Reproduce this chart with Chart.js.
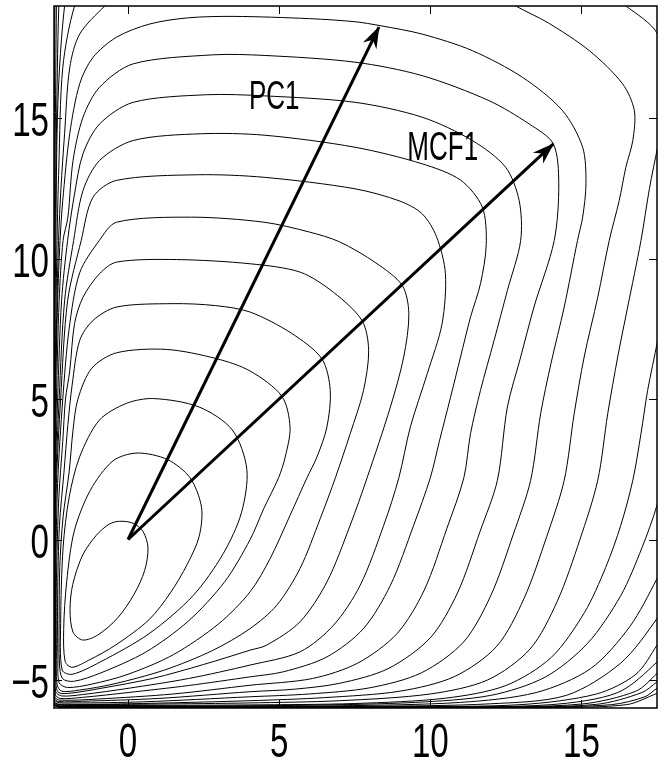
<!DOCTYPE html>
<html>
<head>
<meta charset="utf-8">
<script src="https://cdn.jsdelivr.net/npm/chart.js@4/dist/chart.umd.min.js"></script>
<style>
  html, body { margin: 0; padding: 0; background: #fff; }
</style>
</head>
<body>
<canvas id="chart" width="665" height="763"></canvas>
<script>
// axis ticks
const xTicks = [0, 5, 10, 15];
const yTicks = [-5, 0, 5, 10, 15];

// the two direction arrows, from the origin
const pc1Arrow = [[0, 0], [8.3, 18.25]];
const mcf1Arrow = [[0, 0], [14.07, 14.09]];

// contour lines, innermost first
// (closed ones end on their first point)
const contour01 = [[-0.28,0.65],[0.17,0.58],[0.5,0.28],[0.66,-0.3],[0.55,-1.1],[0.2,-1.95],[-0.35,-2.8],[-1.0,-3.4],[-1.5,-3.58],[-1.82,-3.3],[-1.92,-2.5],[-1.83,-1.6],[-1.5,-0.55],[-1.05,0.15],[-0.62,0.55],[-0.28,0.65]];
const contour02 = [[0.3,3.08],[1.3,2.85],[2.05,2.2],[2.43,1.15],[2.35,0.1],[1.95,-0.9],[1.4,-1.9],[0.7,-2.85],[-0.4,-3.75],[-1.3,-4.3],[-1.85,-4.55],[-2.08,-4.35],[-2.13,-3.2],[-2.03,-1.5],[-1.78,0.3],[-1.25,1.75],[-0.5,2.8],[0.3,3.08]];
const contour03 = [[0.85,5.02],[2.35,4.72],[3.45,3.9],[3.93,2.5],[3.75,0.95],[3.15,-0.5],[2.15,-2.0],[0.7,-3.35],[-0.9,-4.35],[-1.85,-4.8],[-2.18,-4.65],[-2.23,-3.0],[-2.15,-0.3],[-1.95,1.5],[-1.6,2.95],[-0.95,4.25],[-0.05,4.85],[0.85,5.02]];
const contour04 = [[1.27,6.77],[2.93,6.44],[4.04,6.0],[5.09,5.1],[5.36,4.0],[5.2,2.94],[4.98,2.2],[4.49,1.1],[4.04,0.0],[3.2,-1.5],[2.0,-2.9],[0.6,-4.0],[-0.9,-4.75],[-1.8,-5.05],[-2.17,-4.95],[-2.27,-4.4],[-2.28,-3.0],[-2.26,-1.0],[-2.15,0.8],[-1.95,2.4],[-1.82,3.9],[-1.66,5.0],[-1.2,6.1],[-0.38,6.65],[1.27,6.77]];
const contour05 = [[1.49,8.4],[2.9,8.33],[4.04,8.1],[5.4,7.35],[6.41,6.44],[6.69,5.31],[6.58,4.01],[6.25,2.94],[5.92,2.2],[5.36,0.86],[4.7,-0.68],[4.04,-1.86],[3.0,-3.0],[1.5,-4.1],[0.0,-4.8],[-1.2,-5.15],[-2.0,-5.27],[-2.28,-5.1],[-2.32,-4.3],[-2.33,-2.0],[-2.27,0.5],[-2.12,2.4],[-1.99,4.1],[-1.85,5.5],[-1.6,7.09],[-1.16,7.8],[-0.38,8.28],[1.49,8.4]];
const contour06 = [[1.6,9.97],[4.04,9.82],[5.7,9.52],[6.8,8.8],[7.74,7.8],[7.96,6.74],[7.79,5.31],[7.35,3.77],[6.86,2.2],[6.36,0.75],[5.69,-1.03],[4.92,-2.34],[4.04,-3.17],[2.8,-3.95],[1.2,-4.65],[-0.5,-5.15],[-1.6,-5.36],[-2.2,-5.4],[-2.35,-5.15],[-2.37,-4.0],[-2.37,-1.5],[-2.29,1.5],[-2.16,3.5],[-2.07,5.0],[-1.93,6.0],[-1.77,7.69],[-1.49,8.63],[-0.94,9.47],[-0.38,9.88],[1.6,9.97]];
const contour07 = [[2.1,11.48],[4.5,11.3],[6.0,10.95],[7.0,10.6],[8.2,9.85],[9.07,9.05],[9.29,8.04],[9.12,6.5],[8.68,4.72],[7.91,2.2],[7.35,0.51],[6.58,-1.51],[5.69,-2.93],[4.59,-3.76],[4.04,-3.94],[2.5,-4.45],[0.8,-4.95],[-0.9,-5.3],[-1.9,-5.47],[-2.3,-5.45],[-2.39,-5.1],[-2.4,-3.5],[-2.39,-1.0],[-2.33,2.0],[-2.16,5.0],[-1.95,7.5],[-1.6,9.5],[-0.95,10.65],[-0.38,11.3],[2.1,11.48]];
const contour08 = [[2.3,12.99],[4.5,12.9],[7.51,12.49],[9.0,12.05],[9.73,11.6],[10.2,10.8],[10.5,9.47],[10.39,7.69],[9.9,5.91],[9.34,4.01],[8.96,2.2],[8.46,0.51],[7.68,-1.63],[6.8,-3.05],[5.69,-4.0],[4.04,-4.47],[2.0,-4.95],[0.0,-5.3],[-1.5,-5.52],[-2.2,-5.57],[-2.4,-5.4],[-2.41,-4.0],[-2.41,-1.3],[-2.37,2.0],[-2.23,5.0],[-2.0,8.5],[-1.55,10.65],[-1.16,12.19],[-0.38,12.79],[2.3,12.99]];
const contour09 = [[2.4,14.45],[4.5,14.4],[7.51,13.97],[9.73,13.38],[11.0,12.8],[11.72,11.84],[11.85,10.5],[11.66,9.11],[11.33,7.92],[11.0,6.5],[10.67,5.07],[10.3,3.5],[10.0,2.2],[9.45,0.51],[8.68,-1.63],[7.79,-3.17],[6.58,-4.18],[5.14,-4.71],[4.04,-4.89],[2.0,-5.2],[0.0,-5.45],[-1.5,-5.62],[-2.25,-5.66],[-2.41,-5.5],[-2.42,-4.0],[-2.42,-1.3],[-2.39,2.0],[-2.28,5.0],[-2.1,8.5],[-1.8,10.65],[-1.49,12.43],[-0.94,13.5],[0.17,14.21],[2.4,14.45]];
const contour10 = [[2.6,15.84],[4.5,15.8],[7.51,15.57],[9.73,15.04],[11.39,14.21],[12.49,13.26],[12.94,12.07],[12.99,10.65],[12.55,8.87],[12.11,7.09],[11.66,5.31],[11.33,3.77],[11.11,2.2],[10.55,0.4],[9.8,-1.8],[8.9,-3.35],[7.6,-4.4],[6.1,-4.95],[4.04,-5.19],[1.5,-5.5],[-1.0,-5.68],[-2.25,-5.72],[-2.42,-5.6],[-2.43,-4.0],[-2.43,-1.3],[-2.41,2.0],[-2.33,5.0],[-2.2,8.5],[-2.0,10.65],[-1.77,12.31],[-1.49,13.74],[-0.94,14.8],[0.17,15.57],[2.6,15.84]];
const contour11 = [[2.8,17.26],[4.5,17.24],[7.51,17.0],[9.73,16.52],[11.94,15.63],[13.27,14.8],[14.07,14.09],[14.25,12.67],[14.1,10.65],[13.43,8.28],[12.99,6.5],[12.55,4.72],[12.22,2.11],[11.65,0.3],[10.9,-1.9],[10.0,-3.5],[8.6,-4.6],[7.0,-5.12],[5.5,-5.33],[4.04,-5.42],[1.0,-5.66],[-1.5,-5.76],[-2.3,-5.77],[-2.43,-5.65],[-2.435,-4.0],[-2.435,-1.3],[-2.42,2.0],[-2.37,5.0],[-2.28,8.5],[-2.15,10.65],[-1.99,11.48],[-1.82,13.5],[-1.49,15.04],[-0.94,16.11],[0.17,16.94],[2.8,17.26]];
const contour12 = [[3.5,18.63],[6.0,18.55],[7.51,18.44],[8.34,18.3],[9.73,18.0],[11.39,17.41],[13.05,16.46],[14.37,15.28],[15.04,13.97],[15.15,12.67],[15.04,11.48],[14.87,10.65],[14.43,8.28],[13.99,6.26],[13.65,4.48],[13.32,2.11],[12.75,0.2],[12.0,-2.0],[11.1,-3.65],[9.7,-4.75],[8.0,-5.28],[6.0,-5.5],[4.04,-5.6],[0.5,-5.78],[-1.8,-5.82],[-2.38,-5.78],[-2.44,-5.5],[-2.44,-3.0],[-2.44,0.0],[-2.4,5.0],[-2.33,8.5],[-2.25,10.65],[-2.16,12.07],[-1.93,14.45],[-1.6,16.23],[-1.16,17.17],[-0.38,17.89],[0.72,18.36],[2.0,18.58],[3.5,18.63]];
const contour13 = [[-0.3,19.4],[-0.77,19.0],[-1.6,18.0],[-1.93,16.8],[-2.1,14.45],[-2.22,12.5],[-2.3,10.65],[-2.36,8.0],[-2.41,5.0],[-2.44,0.0],[-2.445,-3.0],[-2.445,-5.6],[-2.4,-5.83],[-2.0,-5.87],[0.0,-5.85],[4.04,-5.74],[6.5,-5.63],[9.0,-5.4],[10.8,-4.88],[12.2,-3.8],[13.1,-2.1],[13.85,0.1],[14.43,2.11],[14.76,4.48],[15.09,6.5],[15.54,8.63],[15.92,10.65],[16.25,12.07],[16.47,13.26],[16.7,14.21],[16.75,15.28],[16.36,16.23],[15.26,17.41],[13.9,18.4],[12.83,19.0],[12.3,19.4]];
const contour14 = [[-1.4,19.5],[-1.77,19.0],[-2.16,16.8],[-2.29,13.26],[-2.35,10.65],[-2.42,5.0],[-2.445,0.0],[-2.45,-4.0],[-2.445,-5.7],[-2.38,-5.87],[-1.5,-5.88],[1.0,-5.86],[4.0,-5.82],[7.0,-5.74],[10.0,-5.5],[11.9,-5.0],[13.3,-3.9],[14.2,-2.2],[14.95,0.0],[15.54,2.11],[15.87,4.48],[16.2,6.5],[16.53,8.28],[16.97,10.65],[17.25,12.5],[17.52,13.97],[17.9,16.0],[17.52,18.0],[16.47,19.0],[15.8,19.4]];
const contour15 = [[-1.9,19.5],[-2.1,19.0],[-2.32,15.6],[-2.39,10.65],[-2.435,5.0],[-2.45,0.0],[-2.45,-5.75],[-2.38,-5.9],[-2.0,-5.91],[0.0,-5.91],[4.0,-5.89],[7.5,-5.84],[10.5,-5.65],[12.5,-5.2],[14.0,-4.2],[15.1,-2.6],[15.8,-1.0],[16.3,0.5],[16.7,2.11],[16.97,3.77],[17.19,5.31],[17.52,7.09],[17.9,9.5]];
const contour16 = [[-2.2,19.5],[-2.29,19.0],[-2.37,14.45],[-2.42,10.0],[-2.445,5.0],[-2.45,0.0],[-2.45,-5.8],[-2.38,-5.925],[-2.0,-5.93],[2.0,-5.93],[6.0,-5.9],[9.5,-5.8],[12.0,-5.55],[13.8,-4.9],[15.2,-3.7],[16.3,-2.0],[17.0,-0.3],[17.5,1.22],[17.9,3.0]];
const contour17 = [[-2.35,19.5],[-2.37,19.0],[-2.41,14.0],[-2.435,9.0],[-2.45,3.0],[-2.45,-5.85],[-2.35,-5.94],[2.0,-5.945],[7.0,-5.92],[11.0,-5.8],[13.5,-5.45],[15.3,-4.6],[16.6,-3.1],[17.5,-1.39],[18.2,0.2]];
const contour18 = [[-2.41,19.5],[-2.42,19.0],[-2.44,14.0],[-2.45,9.0],[-2.45,-5.9],[-2.3,-5.955],[3.0,-5.955],[8.0,-5.94],[12.0,-5.85],[14.5,-5.55],[16.3,-4.4],[17.5,-2.81],[18.2,-1.5]];
const contour19 = [[-2.3,-5.965],[4.0,-5.965],[9.0,-5.95],[13.0,-5.88],[15.5,-5.5],[16.8,-4.8],[17.5,-3.76],[18.2,-2.5]];
const contour20 = [[-2.3,-5.972],[5.0,-5.972],[10.0,-5.96],[14.0,-5.88],[16.2,-5.45],[17.5,-4.36],[18.2,-3.4]];
const contour21 = [[-2.3,-5.978],[6.0,-5.978],[11.0,-5.97],[15.0,-5.86],[16.8,-5.4],[17.5,-4.77],[18.2,-4.0]];
const contour22 = [[-2.3,-5.983],[7.0,-5.983],[12.0,-5.975],[15.5,-5.87],[17.0,-5.45],[17.5,-5.07],[18.2,-4.5]];
const contour23 = [[-2.3,-5.987],[8.0,-5.987],[13.0,-5.98],[16.0,-5.88],[17.1,-5.6],[17.5,-5.3],[18.2,-4.9]];
const contour24 = [[-2.3,-5.99],[9.0,-5.99],[14.0,-5.98],[16.5,-5.88],[17.5,-5.48],[18.2,-5.2]];

const contours = [contour01, contour02, contour03, contour04, contour05, contour06,
  contour07, contour08, contour09, contour10, contour11, contour12, contour13,
  contour14, contour15, contour16, contour17, contour18, contour19, contour20,
  contour21, contour22, contour23, contour24];

const toPoints = arr => arr.map(p => ({ x: p[0], y: p[1] }));

const FONT = '"Liberation Sans", Arial, Helvetica, sans-serif';
const HIDDEN = 'rgba(0,0,0,0)';

// narrow text, the figure is squeezed sideways
function narrowText(ctx, text, x, y, align, size, sx) {
    ctx.save();
    ctx.font = size + 'px ' + FONT;
    ctx.translate(x, y);
    ctx.scale(sx, 1);
    ctx.textAlign = align;
    ctx.textBaseline = 'alphabetic';
    ctx.fillStyle = '#000';
    ctx.fillText(text, 0, 0);
    ctx.restore();
}

// closed loops get one extra point on each end so the spline stays smooth
// where it closes; those two extra segments are not painted
function contourDataset(c) {
    const n = c.length;
    const closed = c[0][0] === c[n - 1][0] && c[0][1] === c[n - 1][1];
    const pts = closed ? [c[n - 2]].concat(c, [c[1]]) : c;
    const last = pts.length - 1;
    return {
        data: toPoints(pts),
        showLine: true,
        borderColor: '#000',
        borderWidth: 1,
        pointRadius: 0,
        tension: 0.3,
        segment: closed ? {
            borderColor: s => (s.p0DataIndex === 0 || s.p1DataIndex === last) ? HIDDEN : '#000'
        } : undefined
    };
}

const framePlugin = {
    id: 'frame',
    afterDatasetsDraw(chart) {
        const { ctx, chartArea: a, scales } = chart;
        const xs = scales.x, ys = scales.y;
        ctx.save();

        // arrow heads at the end of each arrow dataset
        chart.data.datasets.forEach((ds, i) => {
            if (!ds.arrow) return;
            const pts = chart.getDatasetMeta(i).data;
            const p0 = pts[pts.length - 2], p1 = pts[pts.length - 1];
            const ang = Math.atan2(p1.y - p0.y, p1.x - p0.x);
            ctx.save();
            ctx.translate(p1.x, p1.y);
            ctx.rotate(ang);
            ctx.beginPath();
            ctx.moveTo(1, 0);
            ctx.lineTo(-21, -7.5);
            ctx.lineTo(-14, 0);
            ctx.lineTo(-21, 7.5);
            ctx.closePath();
            ctx.fillStyle = '#000';
            ctx.fill();
            ctx.restore();
        });

        // labels on the arrows
        narrowText(ctx, 'PC1', xs.getPixelForValue(4.0), ys.getPixelForValue(15.33), 'left', 40, 0.65);
        narrowText(ctx, 'MCF1', xs.getPixelForValue(9.24), ys.getPixelForValue(13.5), 'left', 40, 0.65);

        // box
        ctx.strokeStyle = '#000';
        ctx.lineWidth = 1.5;
        ctx.strokeRect(a.left, a.top, a.right - a.left, a.bottom - a.top);

        // inward ticks on all four sides
        const tl = 8;
        ctx.lineWidth = 1;
        ctx.beginPath();
        xTicks.forEach(v => {
            const px = Math.round(xs.getPixelForValue(v)) + 0.5;
            ctx.moveTo(px, a.bottom); ctx.lineTo(px, a.bottom - tl);
            ctx.moveTo(px, a.top); ctx.lineTo(px, a.top + tl);
        });
        yTicks.forEach(v => {
            const py = Math.round(ys.getPixelForValue(v)) + 0.5;
            ctx.moveTo(a.left, py); ctx.lineTo(a.left + tl, py);
            ctx.moveTo(a.right, py); ctx.lineTo(a.right - tl, py);
        });
        ctx.stroke();

        // tick labels
        xTicks.forEach(v => {
            narrowText(ctx, String(v), xs.getPixelForValue(v), 757, 'center', 48, 0.69);
        });
        yTicks.forEach(v => {
            const t = v < 0 ? '\u2212' + Math.abs(v) : String(v);
            narrowText(ctx, t, 49, ys.getPixelForValue(v) + 18, 'right', 48, 0.69);
        });
        ctx.restore();
    }
};

const datasets = [
    { data: toPoints(pc1Arrow), arrow: true, showLine: true, borderColor: '#000', borderWidth: 3, pointRadius: 0, tension: 0, order: -1 },
    { data: toPoints(mcf1Arrow), arrow: true, showLine: true, borderColor: '#000', borderWidth: 3, pointRadius: 0, tension: 0, order: -1 }
];
contours.forEach(c => datasets.push(contourDataset(c)));

new Chart(document.getElementById('chart').getContext('2d'), {
    type: 'scatter',
    data: { datasets: datasets },
    options: {
        responsive: false,
        animation: false,
        devicePixelRatio: 1,
        layout: { padding: { left: 54, right: 8, top: 6, bottom: 55 } },
        scales: {
            x: { type: 'linear', min: -2.45, max: 17.5, display: false },
            y: { type: 'linear', min: -6, max: 19, display: false }
        },
        plugins: {
            legend: { display: false },
            tooltip: { enabled: false }
        },
        elements: { point: { radius: 0 } }
    },
    plugins: [framePlugin]
});
</script>
</body>
</html>
